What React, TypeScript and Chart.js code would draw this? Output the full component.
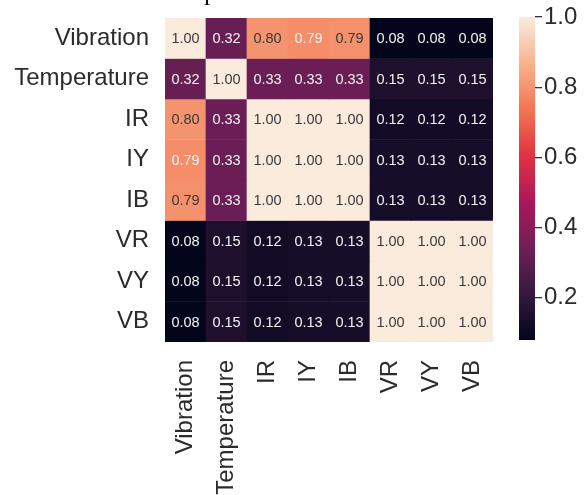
import React, { useEffect, useRef } from "react";
import { Chart, registerables } from "chart.js";

Chart.register(...registerables);

const labels = ["Vibration", "Temperature", "IR", "IY", "IB", "VR", "VY", "VB"];

const vibration = [1.0, 0.32, 0.8, 0.786, 0.794, 0.08, 0.08, 0.08];
const temperature = [0.32, 1.0, 0.33, 0.33, 0.33, 0.15, 0.15, 0.15];
const ir = [0.8, 0.33, 1.0, 1.0, 1.0, 0.12, 0.12, 0.12];
const iy = [0.786, 0.33, 1.0, 1.0, 1.0, 0.13, 0.13, 0.13];
const ib = [0.794, 0.33, 1.0, 1.0, 1.0, 0.13, 0.13, 0.13];
const vr = [0.08, 0.15, 0.12, 0.13, 0.13, 1.0, 1.0, 1.0];
const vy = [0.08, 0.15, 0.12, 0.13, 0.13, 1.0, 1.0, 1.0];
const vb = [0.08, 0.15, 0.12, 0.13, 0.13, 1.0, 1.0, 1.0];

const matrix = [vibration, temperature, ir, iy, ib, vr, vy, vb];

const colorbarTicks = [0.2, 0.4, 0.6, 0.8, 1.0];

const VMIN = Math.min(...matrix.flat());
const VMAX = Math.max(...matrix.flat());

// approximate seaborn "rocket" colormap
const rocketStops: [number, number[]][] = [
  [0.0, [3, 5, 26]],
  [0.143, [53, 25, 62]],
  [0.286, [112, 31, 87]],
  [0.429, [173, 23, 89]],
  [0.571, [225, 51, 66]],
  [0.714, [243, 118, 81]],
  [0.857, [246, 180, 143]],
  [1.0, [250, 235, 221]],
];

function rocket(t: number): string {
  t = Math.max(0, Math.min(1, t));
  for (let i = 1; i < rocketStops.length; i++) {
    const [t1, c1] = rocketStops[i];
    const [t0, c0] = rocketStops[i - 1];
    if (t <= t1) {
      const f = (t - t0) / (t1 - t0);
      const c = c0.map((v, k) => Math.round(v + (c1[k] - v) * f));
      return `rgb(${c[0]},${c[1]},${c[2]})`;
    }
  }
  return "rgb(250,235,221)";
}

const colorFor = (v: number) => rocket((v - VMIN) / (VMAX - VMIN));

const FONT = "'Liberation Sans', Arial, sans-serif";
const TEXT = "#2b2b2b";

const annotate = {
  id: "annotate",
  afterDatasetsDraw(chart: any) {
    const ctx = chart.ctx;
    ctx.save();
    ctx.font = `14.5px ${FONT}`;
    ctx.textAlign = "center";
    ctx.textBaseline = "middle";
    chart.data.datasets.forEach((ds: any, i: number) => {
      const meta = chart.getDatasetMeta(i);
      meta.data.forEach((el: any, j: number) => {
        const v = matrix[i][j];
        ctx.fillStyle = v >= 0.789 ? "#3a3a3a" : "#f2f2f2";
        ctx.fillText(v.toFixed(2), el.x, (el.y + el.base) / 2 + 1);
      });
    });
    // cropped title descender at the very top
    ctx.font = "26px 'Liberation Serif', 'Times New Roman', serif";
    ctx.fillStyle = "#111";
    ctx.textAlign = "left";
    ctx.textBaseline = "alphabetic";
    ctx.fillText("p", 204, 0);
    ctx.restore();
  },
};

const noPad = (s: any) => {
  s.paddingLeft = 0;
  s.paddingRight = 0;
  s.paddingTop = 0;
  s.paddingBottom = 0;
};

export default function App() {
  const mainRef = useRef<HTMLCanvasElement>(null);
  const barRef = useRef<HTMLCanvasElement>(null);

  useEffect(() => {
    const main = new Chart(mainRef.current!, {
      type: "bar",
      data: {
        labels,
        datasets: matrix.map((row, i) => ({
          label: labels[i],
          data: row.map(() => [i, i + 1]) as any,
          backgroundColor: row.map(colorFor),
          borderWidth: 0,
          grouped: false,
          barPercentage: 1,
          categoryPercentage: 1,
        })),
      },
      options: {
        animation: false,
        responsive: false,
        layout: { padding: { top: 18, right: 12, left: 0, bottom: 0 } },
        plugins: { legend: { display: false }, tooltip: { enabled: false }, title: { display: false } },
        scales: {
          x: {
            type: "category",
            grid: { display: false, drawTicks: false },
            border: { display: false },
            ticks: {
              font: { family: FONT, size: 24 },
              color: TEXT,
              minRotation: 90,
              maxRotation: 90,
              autoSkip: false,
              padding: 18,
            },
            afterFit: (s: any) => {
              s.height = 153;
              noPad(s);
            },
          },
          y: {
            type: "linear",
            min: 0,
            max: 8,
            reverse: true,
            grid: { display: false, drawTicks: false },
            border: { display: false },
            afterBuildTicks: (s: any) => {
              s.ticks = labels.map((_, i) => ({ value: i + 0.5 }));
            },
            ticks: {
              font: { family: FONT, size: 24 },
              color: TEXT,
              padding: 16,
              autoSkip: false,
              callback: (_v: any, idx: number) => labels[idx],
            },
            afterFit: (s: any) => {
              s.width = 165;
              noPad(s);
            },
          },
        },
      },
      plugins: [annotate],
    });

    const cbar = new Chart(barRef.current!, {
      type: "bar",
      data: {
        labels: ["scale"],
        datasets: [
          {
            data: [[VMIN, VMAX]] as any,
            borderWidth: 0,
            barPercentage: 1,
            categoryPercentage: 1,
            backgroundColor: (ctx: any) => {
              const chart = ctx.chart;
              if (!chart.chartArea) return "black";
              const y = chart.scales.y;
              const y0 = y.getPixelForValue(VMIN);
              const y1 = y.getPixelForValue(VMAX);
              const g = chart.ctx.createLinearGradient(0, y0, 0, y1);
              rocketStops.forEach(([t]) => g.addColorStop(t, rocket(t)));
              return g;
            },
          },
        ],
      },
      options: {
        animation: false,
        responsive: false,
        layout: { padding: { top: 17, left: 14, right: 0, bottom: 155 } },
        plugins: { legend: { display: false }, tooltip: { enabled: false } },
        scales: {
          x: { display: false },
          y: {
            position: "right",
            min: VMIN,
            max: VMAX,
            border: { display: false },
            grid: {
              drawOnChartArea: false,
              drawTicks: true,
              tickLength: 7,
              color: "#333",
              lineWidth: 1.3,
            },
            afterBuildTicks: (s: any) => {
              s.ticks = colorbarTicks.map((v) => ({ value: v }));
            },
            ticks: {
              font: { family: FONT, size: 24 },
              color: TEXT,
              padding: 2,
              callback: (v: any) => Number(v).toFixed(1),
            },
            afterFit: (s: any) => {
              s.width = 50;
              noPad(s);
            },
          },
        },
      },
    });

    return () => {
      main.destroy();
      cbar.destroy();
    };
  }, []);

  return (
    <div style={{ position: "absolute", left: 0, top: 0, width: 585, height: 495, background: "#fff" }}>
      <canvas ref={mainRef} width={505} height={495} style={{ position: "absolute", left: 0, top: 0 }} />
      <canvas ref={barRef} width={80} height={495} style={{ position: "absolute", left: 505, top: 0 }} />
    </div>
  );
}
